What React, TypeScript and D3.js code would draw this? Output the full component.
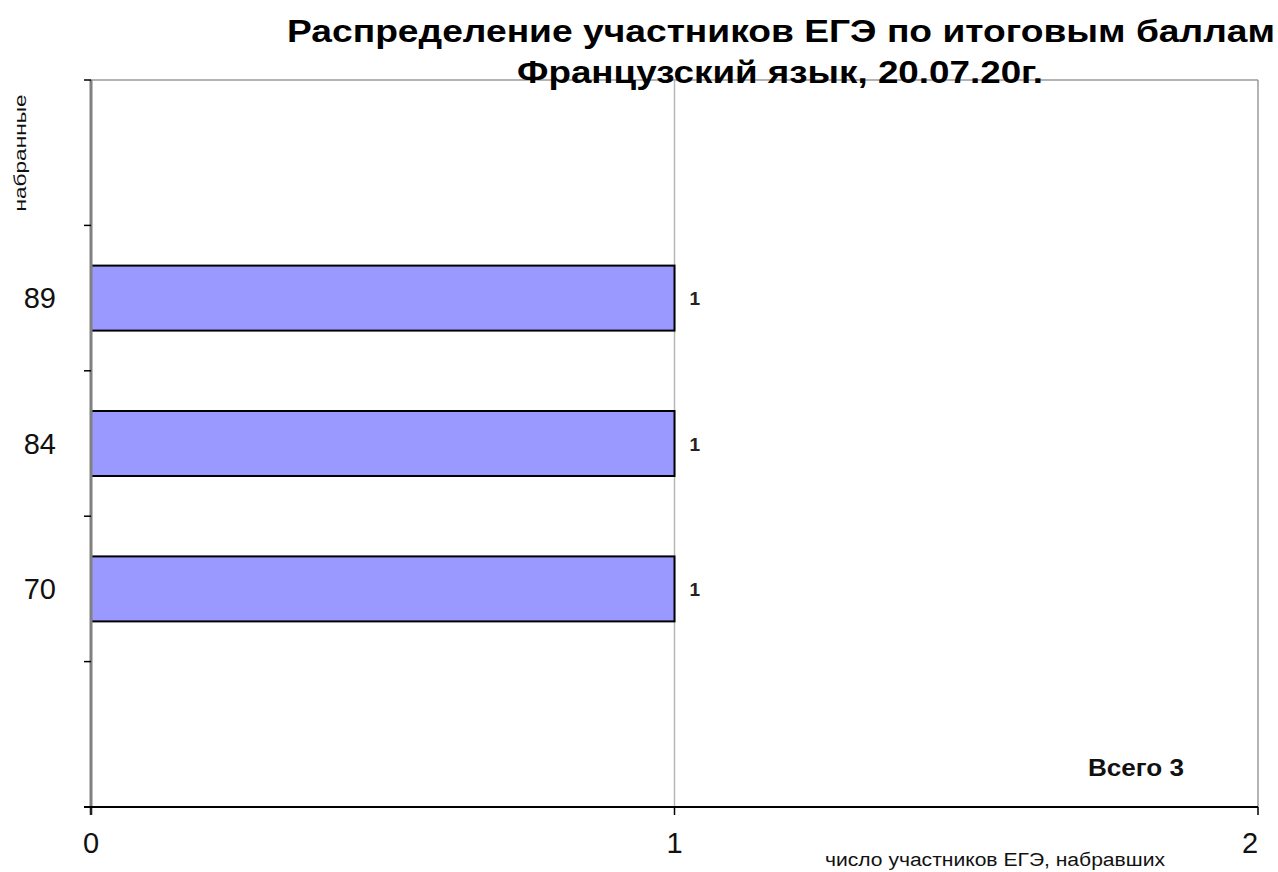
import React from "react";
import * as d3 from "d3";

const titleLines = ["Распределение участников ЕГЭ по итоговым баллам", "Французский язык, 20.07.20г."];
const categories = ["", "70", "84", "89", ""];
const values: (number | null)[] = [null, 1, 1, 1, null];
const xTicks = [0, 1, 2];
const xAxisTitle = "число участников ЕГЭ, набравших";
const yAxisTitle = "набранные";
const totalLabel = "Всего 3";

const W = 1278;
const H = 872;
const left = 91, right = 1258, top = 80, bottom = 807;

export default function App() {
  const x = d3.scaleLinear().domain([0, 2]).range([left, right]);
  const idx = categories.map((_, i) => String(i));
  const p = 0.553;
  const y = d3.scaleBand<string>().domain(idx).range([bottom, top]).paddingInner(p).paddingOuter(p / 2);
  const step = y.step();
  const boundaries = d3.range(categories.length + 1).map((i) => bottom - i * step);
  const font = "'Liberation Sans', Arial, sans-serif";

  return (
    <svg width={W} height={H} style={{ position: "absolute", left: 0, top: 0, background: "#fff" }} fontFamily={font}>
      {/* plot border */}
      <line x1={left} x2={right} y1={top} y2={top} stroke="#9a9a9a" strokeWidth={1.5} />
      <line x1={right} x2={right} y1={top} y2={bottom} stroke="#9a9a9a" strokeWidth={1.5} />
      {/* gridlines */}
      {xTicks.slice(1, -1).map((t) => (
        <line key={t} x1={x(t)} x2={x(t)} y1={top} y2={bottom} stroke="#b8b8b8" strokeWidth={1.5} />
      ))}
      {/* bars */}
      {values.map((v, i) =>
        v == null ? null : (
          <g key={i}>
            <rect x={x(0)} y={y(String(i))!} width={x(v) - x(0)} height={y.bandwidth()} fill="#9999FF" stroke="#000" strokeWidth={2} />
            <text x={x(v) + 15} y={y(String(i))! + y.bandwidth() / 2 + 7} fontSize={19} fontWeight="bold" fill="#222">
              {v}
            </text>
          </g>
        )
      )}
      {/* y axis */}
      <line x1={left} x2={left} y1={top} y2={bottom + 8} stroke="#808080" strokeWidth={3} />
      {boundaries.map((b, i) => (
        <line key={i} x1={left - 7} x2={left} y1={b} y2={b} stroke="#000" strokeWidth={1.5} />
      ))}
      {categories.map((c, i) => (
        <text key={i} x={56} y={y(String(i))! + y.bandwidth() / 2 + 10} fontSize={29} textAnchor="end" fill="#111">
          {c}
        </text>
      ))}
      {/* x axis */}
      <line x1={left - 7} x2={right} y1={bottom} y2={bottom} stroke="#000" strokeWidth={2} />
      {xTicks.map((t) => (
        <g key={t}>
          <line x1={x(t)} x2={x(t)} y1={bottom} y2={bottom + 8} stroke="#000" strokeWidth={1.5} />
          <text x={x(t) - (t === 2 ? 8 : 0)} y={853} fontSize={29} textAnchor="middle" fill="#111">
            {t}
          </text>
        </g>
      ))}
      <text x={995} y={866} fontSize={18} textAnchor="middle" fill="#111" textLength={340} lengthAdjust="spacingAndGlyphs">
        {xAxisTitle}
      </text>
      <text transform="translate(26,153) rotate(-90)" fontSize={17} textAnchor="middle" fill="#111" textLength={117} lengthAdjust="spacingAndGlyphs">
        {yAxisTitle}
      </text>
      {/* title */}
      <text x={781} y={42} fontSize={31} fontWeight="bold" textAnchor="middle" fill="#000" textLength={988} lengthAdjust="spacingAndGlyphs">
        {titleLines[0]}
      </text>
      <text x={780} y={83} fontSize={31} fontWeight="bold" textAnchor="middle" fill="#000" textLength={526} lengthAdjust="spacingAndGlyphs">
        {titleLines[1]}
      </text>
      <text x={1136} y={776} fontSize={23} fontWeight="bold" textAnchor="middle" fill="#111" textLength={96} lengthAdjust="spacingAndGlyphs">
        {totalLabel}
      </text>
    </svg>
  );
}
